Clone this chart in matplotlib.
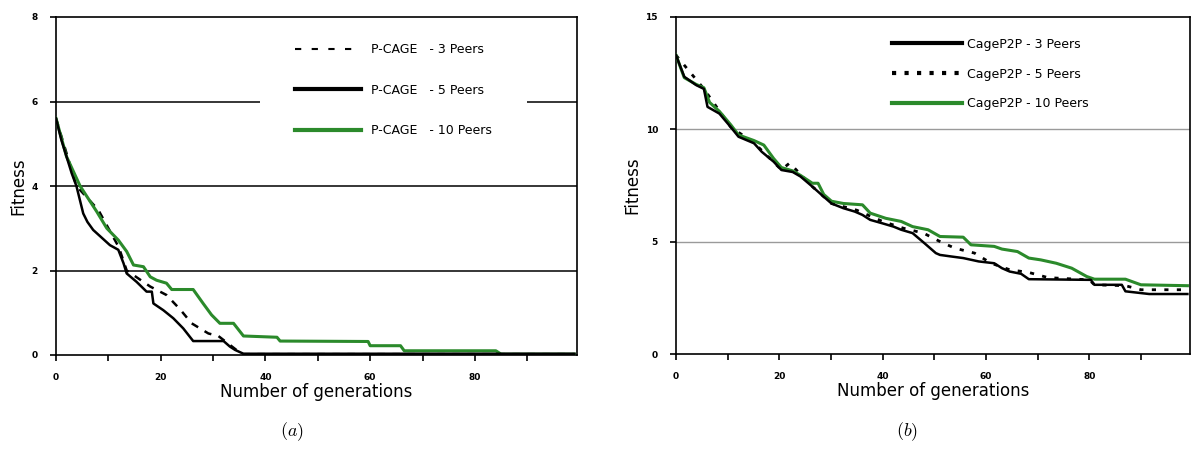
import matplotlib
matplotlib.use("Agg")
import matplotlib.pyplot as plt
from matplotlib.lines import Line2D

plt.rcParams['mathtext.fontset'] = 'cm'
plt.rcParams['font.family'] = ['DejaVu Sans']

# ---------------- data: panel (a) P-CAGE ----------------
a3_gen = [0, 3.9, 8.1, 12, 13.5, 18, 21.1, 23.7, 25.9, 29.1, 31, 35.5, 99]
a3_fit = [5.6, 4.0, 3.43, 2.55, 2.0, 1.62, 1.42, 1.08, 0.75, 0.51, 0.45, 0.02, 0.02]

a5_gen = [0, 1, 2, 3, 3.9, 4.6, 5.2, 6.0, 7.1, 8.7, 10.3, 11.9, 12.9, 13.5, 15.4, 17.3, 18.3, 18.6,
          20.5, 22.4, 24.3, 26.2, 32, 33.2, 34.2, 35.8, 99]
a5_fit = [5.6, 5.1, 4.7, 4.3, 4.0, 3.65, 3.35, 3.15, 2.96, 2.78, 2.6, 2.49, 2.17, 1.93, 1.73, 1.5, 1.5, 1.22,
          1.06, 0.87, 0.63, 0.33, 0.33, 0.2, 0.12, 0.03, 0.03]

a10_gen = [0, 2, 4.6, 7.8, 9.7, 11.9, 13.5, 14.8, 16.7, 18, 19.2, 21.1, 22.1, 26.2, 28.1,
           29.7, 31.3, 33.9, 35.8, 42.2, 42.8, 59.6, 60, 65.8, 66.5, 84, 85, 99]
a10_fit = [5.6, 4.7, 4.0, 3.39, 3.0, 2.72, 2.45, 2.13, 2.09, 1.85, 1.77, 1.7, 1.55, 1.55, 1.22,
           0.95, 0.75, 0.75, 0.45, 0.42, 0.33, 0.32, 0.22, 0.22, 0.1, 0.1, 0.02, 0.02]

a_labels = ["P-CAGE   - 3 Peers", "P-CAGE   - 5 Peers", "P-CAGE   - 10 Peers"]
a_yticks = [0, 2, 4, 6, 8]

# ---------------- data: panel (b) CageP2P ----------------
b3_gen = [0, 1.6, 3.9, 5.4, 6.1, 8.4, 10.6, 12.1, 15.1, 16.6, 18.9, 20.4, 22.6, 24.1, 26.4,
          28.6, 30.1, 32.4, 34.6, 36.1, 37.6, 39.9, 42.1, 43.6, 45.8, 48.1, 50.3, 51.1, 53.3,
          55.6, 58.6, 61.6, 63.1, 64.6, 66.8, 68.3, 80.3, 81, 86.3, 87, 91.6, 99]
b3_fit = [13.3, 12.34, 11.97, 11.8, 11.0, 10.7, 10.1, 9.67, 9.38, 9.0, 8.56, 8.19, 8.1, 7.9, 7.45,
          7.0, 6.7, 6.49, 6.34, 6.19, 5.97, 5.82, 5.67, 5.53, 5.38, 4.93, 4.49, 4.41, 4.34,
          4.27, 4.12, 4.04, 3.82, 3.67, 3.57, 3.33, 3.3, 3.08, 3.08, 2.79, 2.67, 2.67]

b5_gen = [0, 5.4, 10.6, 15.1, 20.4, 22, 26.4, 30.1, 35, 40, 44, 47.9, 51.5, 54, 57.8, 61,
          64.6, 68.3, 72, 80, 81, 87, 90, 99]
b5_fit = [13.3, 11.8, 10.1, 9.4, 8.2, 8.5, 7.45, 6.7, 6.4, 5.9, 5.6, 5.38, 4.96, 4.71, 4.49, 4.04,
          3.75, 3.63, 3.4, 3.3, 3.08, 3.04, 2.86, 2.86]

b10_gen = [0, 1.6, 3.9, 5.4, 6.5, 8.4, 10.6, 12.1, 15.1, 17, 18.9, 20.4, 22.6, 24.1, 26.4, 27.5,
           28.6, 30.1, 32.4, 36.1, 37.6, 40.6, 43.6, 45.8, 48.8, 51.1, 55.6, 57.1, 61.6, 63.1,
           66.1, 68.3, 70.6, 73.6, 76.6, 79.5, 81, 87, 90, 99]
b10_fit = [13.3, 12.3, 12.0, 11.85, 11.2, 10.8, 10.2, 9.75, 9.5, 9.3, 8.7, 8.3, 8.15, 7.95, 7.6, 7.6,
           7.1, 6.8, 6.7, 6.64, 6.27, 6.04, 5.9, 5.67, 5.53, 5.23, 5.2, 4.86, 4.79, 4.67,
           4.56, 4.27, 4.19, 4.04, 3.82, 3.45, 3.33, 3.33, 3.08, 3.04]

b_labels = ["CageP2P - 3 Peers", "CageP2P - 5 Peers", "CageP2P - 10 Peers"]
b_yticks = [0, 5, 10, 15]

x_ticks = [0, 20, 40, 60, 80]
x_minor = [10, 30, 50, 70, 90]

GREEN = '#2b8a2b'
W, H = 1194, 459

fig = plt.figure(figsize=(W / 100, H / 100), dpi=100)
ax1 = fig.add_axes([56 / W, 1 - 355 / H, (577 - 56) / W, (355 - 17) / H])
ax2 = fig.add_axes([676 / W, 1 - 354 / H, (1190 - 676) / W, (354 - 17) / H])


def style(ax, yticks, ymax):
    ax.set_xlim(0, 99.5)
    ax.set_ylim(0, ymax)
    ax.set_xticks(x_ticks)
    ax.set_xticks(x_minor, minor=True)
    ax.set_yticks(yticks)
    for s in ax.spines.values():
        s.set_linewidth(1.2)
        s.set_color('black')
    ax.tick_params(axis='x', which='both', direction='out', length=4, width=1.2,
                   pad=9, labelsize=6.5)
    ax.tick_params(axis='y', direction='out', length=4, width=1.2, pad=9, labelsize=6.5)
    for lab in ax.get_xticklabels() + ax.get_yticklabels():
        lab.set_fontweight('bold')
    ax.set_xlabel("Number of generations", fontsize=12, labelpad=1)
    ax.set_ylabel("Fitness", fontsize=12, labelpad=3)


# ---- panel (a)
style(ax1, a_yticks, 8)
for yv in a_yticks[1:-1]:
    ax1.axhline(yv, color='black', lw=1.1, zorder=1)
ax1.plot(a3_gen, a3_fit, color='black', lw=1.8, ls=(0, (3, 3)), zorder=3)
ax1.plot(a10_gen, a10_fit, color=GREEN, lw=2.2, zorder=4)
ax1.plot(a5_gen, a5_fit, color='black', lw=1.8, zorder=5)

h_a = [Line2D([], [], color='black', lw=1.5, ls=(0, (3, 5))),
       Line2D([], [], color='black', lw=3),
       Line2D([], [], color=GREEN, lw=3)]
leg1 = ax1.legend(h_a, a_labels, loc='upper left', bbox_to_anchor=(260 / W, 1 - 8 / H),
                  bbox_transform=fig.transFigure, fontsize=9, frameon=True,
                  fancybox=False, edgecolor='none', facecolor='white', framealpha=1,
                  borderpad=2.8, labelspacing=2.2, handlelength=5.3, handletextpad=0.8,
                  borderaxespad=0)
leg1.set_zorder(2.2)

# ---- panel (b)
style(ax2, b_yticks, 15)
for yv in b_yticks[1:-1]:
    ax2.axhline(yv, color='#9a9a9a', lw=1.0, zorder=1)
ax2.plot(b5_gen, b5_fit, color='black', lw=2.0, ls=(0, (1.5, 3)), zorder=3)
ax2.plot(b10_gen, b10_fit, color=GREEN, lw=2.2, zorder=4)
ax2.plot(b3_gen, b3_fit, color='black', lw=1.8, zorder=5)

h_b = [Line2D([], [], color='black', lw=3),
       Line2D([], [], color='black', lw=3, ls=(0, (1, 2))),
       Line2D([], [], color=GREEN, lw=3)]
ax2.legend(h_b, b_labels, loc='upper left', bbox_to_anchor=(888 / W, 1 - 34 / H),
           bbox_transform=fig.transFigure, fontsize=9, frameon=False,
           borderpad=0.3, labelspacing=1.35, handlelength=5.6, handletextpad=0.4,
           borderaxespad=0)

# captions
fig.text(292 / W, 1 - 432 / H, r'$(a)$', ha='center', va='center', fontsize=13)
fig.text(907 / W, 1 - 432 / H, r'$(b)$', ha='center', va='center', fontsize=13)

fig.savefig('out.png', dpi=100)
